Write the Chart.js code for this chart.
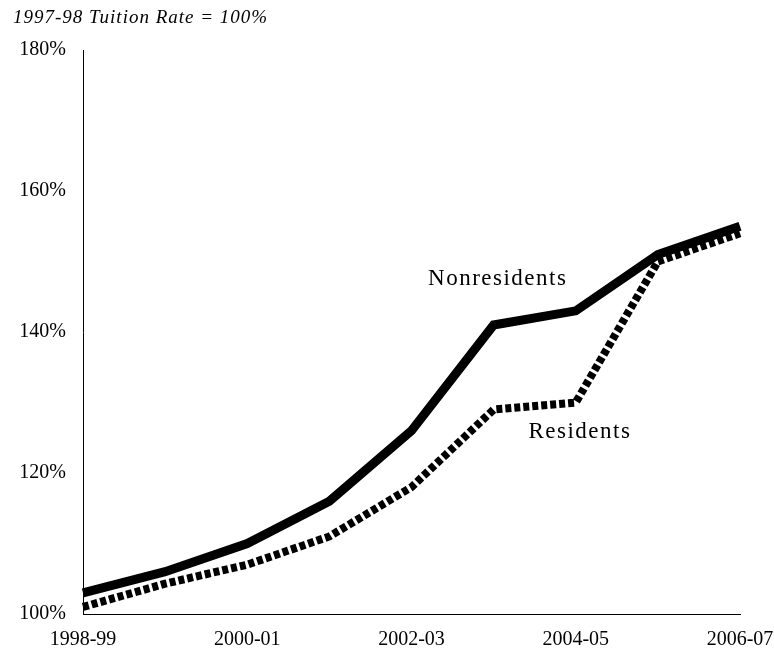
<!DOCTYPE html>
<html>
<head>
<meta charset="utf-8">
<script src="https://cdn.jsdelivr.net/npm/chart.js@4.4.1/dist/chart.umd.min.js"></script>
<style>
  html, body { margin: 0; padding: 0; background: #fff; }
  #wrap { width: 774px; height: 653px; }
</style>
</head>
<body>
<div id="wrap"><canvas id="myChart"></canvas></div>
<script>
(() => {
  'use strict'

  const years = ['1998-99','1999-00','2000-01','2001-02','2002-03','2003-04','2004-05','2005-06','2006-07']
  const nonresidents = [103, 106, 110, 116, 126, 141, 143, 151, 155]
  const residents = [101, 104.3, 107, 111, 118, 129, 130, 150, 154]
  const yTicks = [100, 120, 140, 160, 180]

  const serif = "'Liberation Serif', 'Times New Roman', serif"

  // title and the two line labels
  const extraText = {
    id: 'extraText',
    afterDraw(chart) {
      const c = chart.ctx
      const x = chart.scales.x
      const y = chart.scales.y
      c.save()
      c.fillStyle = '#000'
      c.textBaseline = 'middle'
      c.font = 'italic 19px ' + serif
      c.letterSpacing = '1px'
      c.textAlign = 'left'
      c.fillText('1997-98 Tuition Rate = 100%', 13, 18)

      c.font = '23px ' + serif
      c.letterSpacing = '1.5px'
      c.textAlign = 'center'
      c.fillText('Nonresidents', x.getPixelForValue(5.05), y.getPixelForValue(147.5))
      c.fillText('Residents', x.getPixelForValue(6.05), y.getPixelForValue(125.8))
      c.restore()
    }
  }

  const ctx = document.getElementById('myChart')
  new Chart(ctx, {
    type: 'line',
    data: {
      labels: years,
      datasets: [{
        label: 'Nonresidents',
        data: nonresidents,
        borderColor: '#000',
        borderWidth: 9,
        pointRadius: 0,
        tension: 0,
        borderJoinStyle: 'miter'
      }, {
        label: 'Residents',
        data: residents,
        borderColor: '#000',
        borderWidth: 8,
        borderDash: [6, 3],
        pointRadius: 0,
        tension: 0,
        borderJoinStyle: 'miter'
      }]
    },
    options: {
      responsive: true,
      maintainAspectRatio: false,
      animation: false,
      layout: { padding: { top: 50, right: 34, left: 0, bottom: 0 } },
      plugins: {
        legend: { display: false },
        tooltip: { enabled: false }
      },
      scales: {
        x: {
          offset: false,
          grid: { display: false, drawTicks: false },
          border: { color: '#000', width: 1 },
          ticks: {
            autoSkip: false,
            maxRotation: 0,
            padding: 14,
            color: '#000',
            font: { family: serif, size: 20 },
            callback: (v, i) => (i % 2 === 0 ? years[i] : '')
          },
          afterFit: s => {
            s.height = 39
            s.paddingLeft = 0
            s.paddingRight = 0
          }
        },
        y: {
          min: 100,
          max: 180,
          afterBuildTicks: s => { s.ticks = yTicks.map(v => ({ value: v })) },
          grid: { display: false, drawTicks: false },
          border: { color: '#000', width: 1 },
          ticks: {
            padding: 17,
            color: '#000',
            font: { family: serif, size: 20 },
            callback: v => v + '%'
          },
          afterFit: s => { s.width = 83 }
        }
      }
    },
    plugins: [extraText]
  })
})()
</script>
</body>
</html>
